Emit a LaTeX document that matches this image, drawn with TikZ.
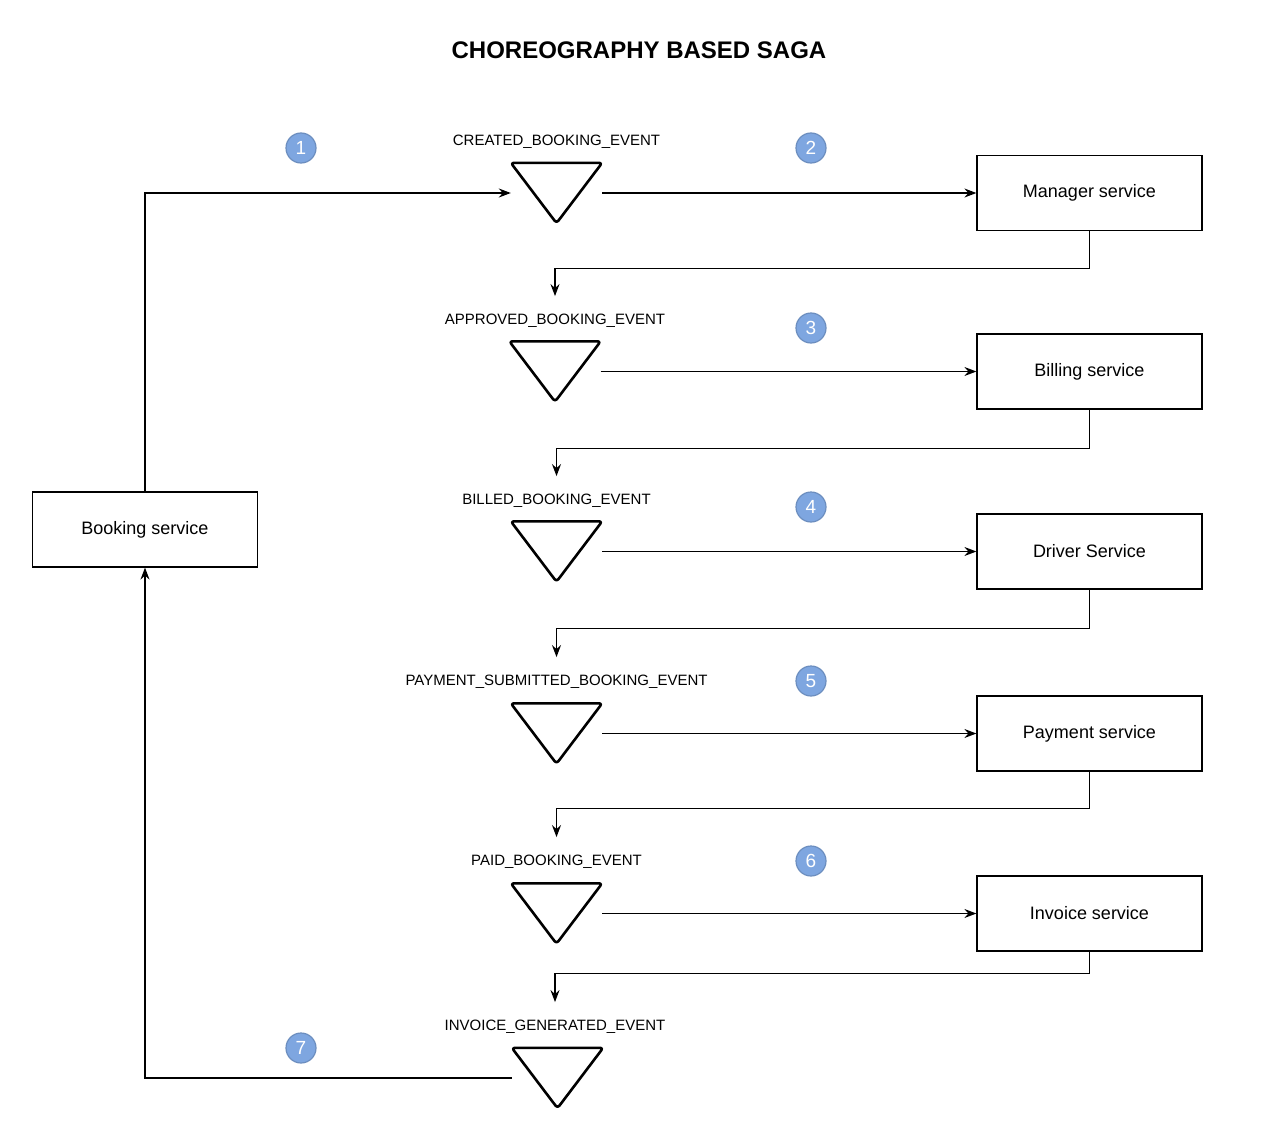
\documentclass[tikz,border=0pt]{standalone}
\usepackage{fontspec}
\setmainfont{Liberation Sans}
\usetikzlibrary{arrows.meta}
\definecolor{stepfill}{HTML}{7EA6E0}
\definecolor{stepdraw}{HTML}{6C8EBF}

\begin{document}
\begin{tikzpicture}[x=1pt,y=-1pt]
	\tikzstyle{every node}=[inner sep=0pt]
	\tikzstyle{service}=[draw, line width=1.2pt, minimum width=225pt, minimum height=75pt, font=\fontsize{18}{22}\selectfont]
	\tikzstyle{event}=[minimum width=91pt, minimum height=60pt]
	\tikzstyle{evshape}=[draw, line width=2.6pt, rounded corners=3pt, line join=round]
	\tikzstyle{evlabel}=[font=\fontsize{15}{18}\selectfont]
	\tikzstyle{stepnum}=[circle, fill=stepfill, draw=stepdraw, line width=1.2pt, minimum size=30pt, text=white, font=\fontsize{19}{20}\selectfont]
	\tikzstyle{flow}=[line width=1.2pt, -{Stealth[length=12pt, width=9pt, inset=4pt]}]
	\useasboundingbox (0,0) rectangle (1278,1148);
	\draw (639,50) node (title) [font=\fontsize{24}{28}\selectfont\bfseries] {CHOREOGRAPHY BASED SAGA};
	% services
	\draw (145,529.5) node (booking) [service] {Booking service};
	\draw (1089.5,193) node (manager) [service] {Manager service};
	\draw (1089.5,371.5) node (billing) [service] {Billing service};
	\draw (1089.5,551.5) node (driver) [service] {Driver Service};
	\draw (1089.5,733.5) node (payment) [service] {Payment service};
	\draw (1089.5,913.5) node (invoice) [service] {Invoice service};
	% events
	\draw (556.5,193) node (e1) [event] {};
	\draw (555,371.5) node (e2) [event] {};
	\draw (556.5,551.5) node (e3) [event] {};
	\draw (556.5,733.5) node (e4) [event] {};
	\draw (556.5,913.5) node (e5) [event] {};
	\draw (557.5,1078) node (e6) [event] {};
	\foreach \e in {e1,e2,e3,e4,e5,e6}
		\draw [evshape] (\e.north west) -- (\e.north east) -- (\e.south) -- cycle;
	\draw (556.5,142) node (l1) [evlabel] {CREATED\_BOOKING\_EVENT};
	\draw (555,321) node (l2) [evlabel] {APPROVED\_BOOKING\_EVENT};
	\draw (556.5,501) node (l3) [evlabel] {BILLED\_BOOKING\_EVENT};
	\draw (556.5,682) node (l4) [evlabel] {PAYMENT\_SUBMITTED\_BOOKING\_EVENT};
	\draw (556.5,862) node (l5) [evlabel] {PAID\_BOOKING\_EVENT};
	\draw (555,1027) node (l6) [evlabel] {INVOICE\_GENERATED\_EVENT};
	% step numbers
	\draw (301,148) node (n1) [stepnum] {1};
	\draw (811,148) node (n2) [stepnum] {2};
	\draw (811,328) node (n3) [stepnum] {3};
	\draw (811,507) node (n4) [stepnum] {4};
	\draw (811,681) node (n5) [stepnum] {5};
	\draw (811,861) node (n6) [stepnum] {6};
	\draw (301,1048) node (n7) [stepnum] {7};
	% flows
	\draw [flow] (booking.north) |- (e1.west);
	\draw [flow] (e1.east) -- (manager.west);
	\draw [flow] (e2.east) -- (billing.west);
	\draw [flow] (e3.east) -- (driver.west);
	\draw [flow] (e4.east) -- (payment.west);
	\draw [flow] (e5.east) -- (invoice.west);
	\draw [flow, shorten >=18pt] (manager.south) -- ++(0,37) -| (l2.north);
	\draw [flow, shorten >=18pt] (billing.south) -- ++(0,39) -| (l3.north);
	\draw [flow, shorten >=18pt] (driver.south) -- ++(0,39) -| (l4.north);
	\draw [flow, shorten >=18pt] (payment.south) -- ++(0,37) -| (l5.north);
	\draw [flow, shorten >=18pt] (invoice.south) -- ++(0,22) -| (l6.north);
	\draw [flow] (e6.west) -| (booking.south);
\end{tikzpicture}
\end{document}
